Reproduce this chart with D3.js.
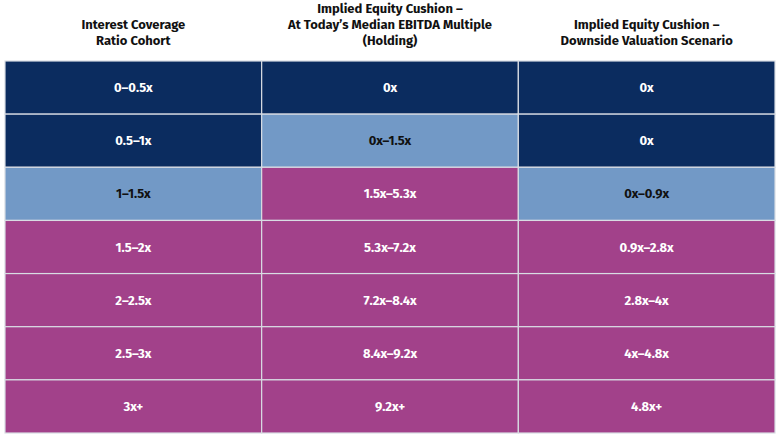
<!DOCTYPE html>
<html><head><meta charset="utf-8">
<script src="https://cdn.jsdelivr.net/npm/d3@7"></script>
<style>body{margin:0;background:#fff}</style>
</head><body><svg id="c" width="780" height="440"></svg>
<script>
const headers=[["Interest Coverage","Ratio Cohort"],["Implied Equity Cushion –","At Today’s Median EBITDA Multiple","(Holding)"],["Implied Equity Cushion –","Downside Valuation Scenario"]];
const cohorts=["0–0.5x","0.5–1x","1–1.5x","1.5–2x","2–2.5x","2.5–3x","3x+"];
const holding=["0x","0x–1.5x","1.5x–5.3x","5.3x–7.2x","7.2x–8.4x","8.4x–9.2x","9.2x+"];
const downside=["0x","0x","0x–0.9x","0.9x–2.8x","2.8x–4x","4x–4.8x","4.8x+"];
// color class: 0 navy, 1 light blue, 2 magenta
const cls=[[0,0,0],[0,1,0],[1,2,1],[2,2,2],[2,2,2],[2,2,2],[2,2,2]];
const fills=["#0b2c5f","#7299c6","#a2418a"], txt=["#fff","#111","#fff"];
const svg=d3.select("#c");
const x=d3.scaleBand().domain([0,1,2]).range([5,775]);
const y=d3.scaleBand().domain(d3.range(cohorts.length)).range([61,433]);
const cols=[cohorts,holding,downside];
const font="'Fira Sans','Open Sans',sans-serif";
headers.forEach((h,i)=>{
  const n=h.length, lh=16, top=n===2?29:13;
  const t=svg.append("text").attr("text-anchor","middle").attr("font-family",font).attr("font-weight",700).attr("font-size",13).attr("fill","#111");
  h.forEach((l,k)=>t.append("tspan").attr("x",x(i)+x.bandwidth()/2).attr("y",top+k*lh).text(l));
});
cohorts.forEach((_,r)=>[0,1,2].forEach(c=>{
  const k=cls[r][c];
  svg.append("rect").attr("x",x(c)).attr("y",y(r)).attr("width",x.bandwidth()).attr("height",y.bandwidth()).attr("fill",fills[k]).attr("stroke","#d8dce3").attr("stroke-width",1.2);
  svg.append("text").attr("x",x(c)+x.bandwidth()/2).attr("y",y(r)+y.bandwidth()/2+4.5).attr("text-anchor","middle").attr("font-family",font).attr("font-weight",700).attr("font-size",13).attr("fill",txt[k]).text(cols[c][r]);
}));
</script></body></html>
